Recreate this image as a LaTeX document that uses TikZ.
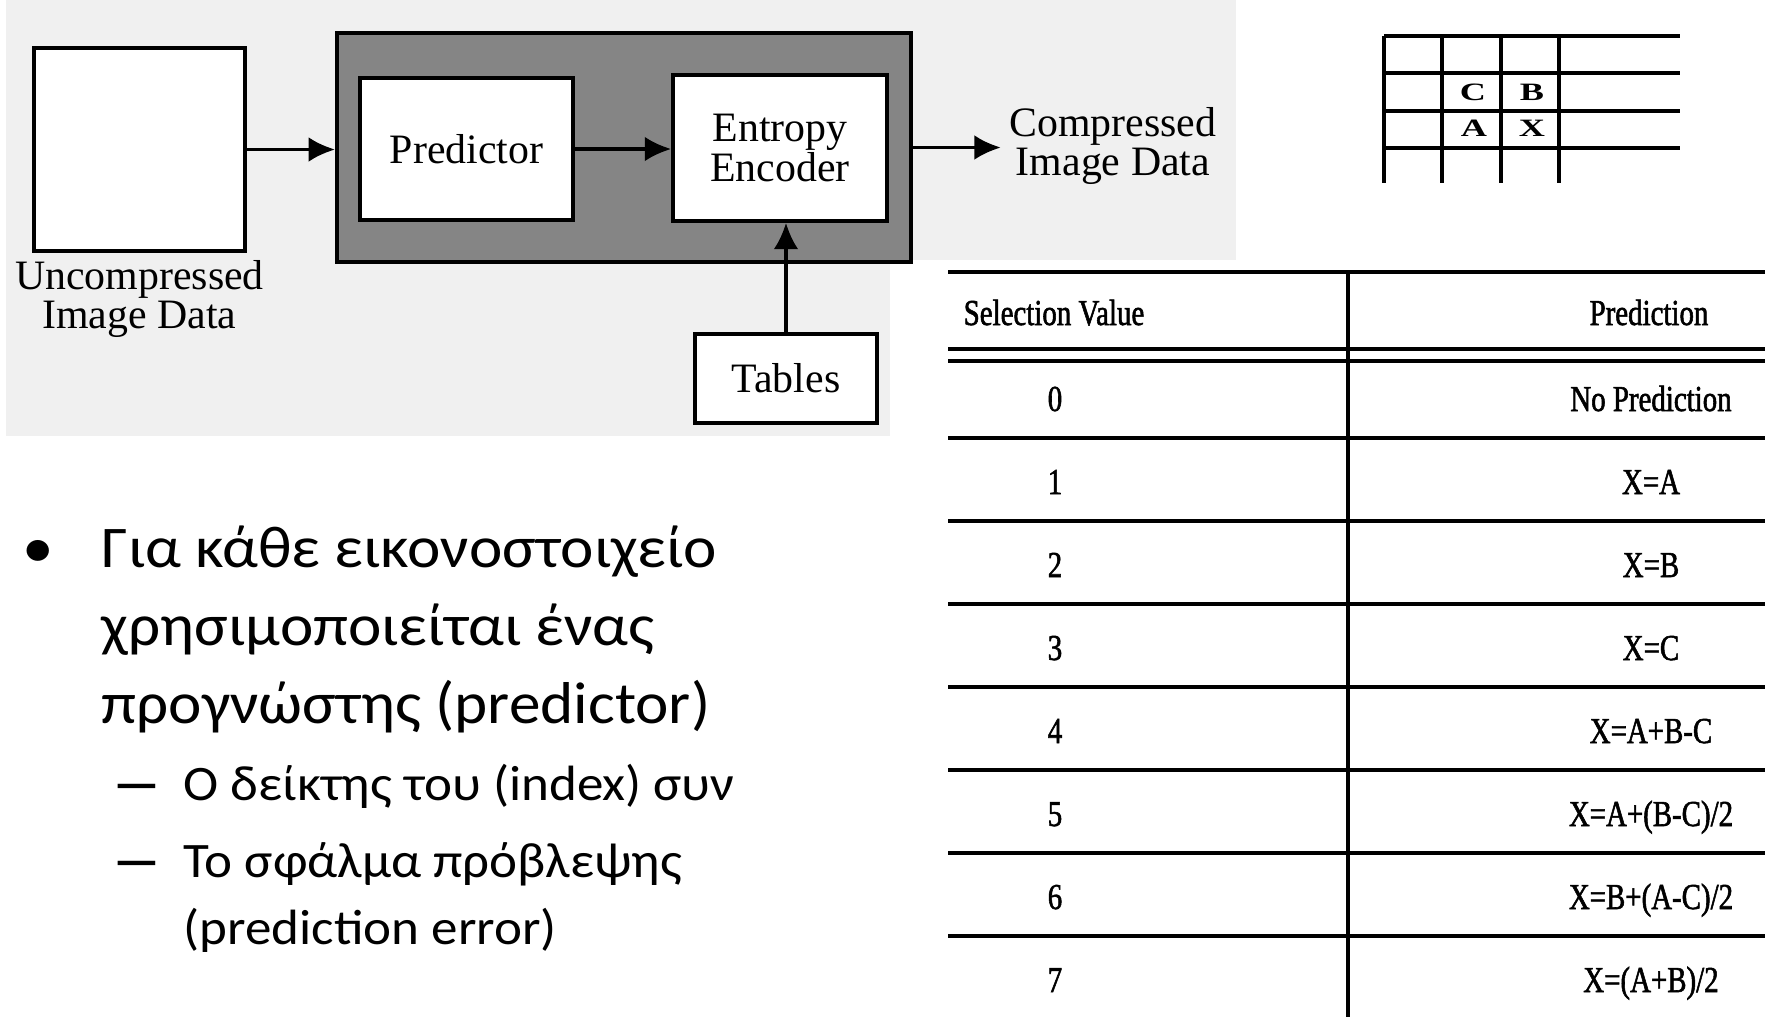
\documentclass[tikz,border=0pt]{standalone}
\usepackage{fontspec}
\setmainfont{Liberation Serif}
\newfontfamily\slidefont{Carlito}[FakeStretch=1.07]
\newfontfamily\tabfont{Liberation Serif}[FakeStretch=0.79,FakeBold=1.5]
\newfontfamily\cellfont{Liberation Serif}[FakeStretch=1.45]
\usetikzlibrary{arrows.meta, positioning}
\definecolor{scangray}{gray}{0.94}
\definecolor{framegray}{gray}{0.52}

\begin{document}
\begin{tikzpicture}[x=0.01cm, y=-0.01cm,
    blk/.style={draw, line width=1pt, fill=white, inner sep=0pt, align=center, font=\fontsize{11.9}{11.1}\selectfont},
    lbl/.style={inner sep=0pt, align=center, font=\fontsize{11.9}{11.1}\selectfont},
    arr/.style={line width=1pt, -{Latex[length=7.5pt, width=7pt]}},
    rule/.style={line width=0.9pt},
    celltxt/.style={font=\cellfont\bfseries\fontsize{7.1}{8}\selectfont, inner sep=0pt},
    tabtxt/.style={font=\tabfont\fontsize{10.4}{11}\selectfont, inner sep=0pt, anchor=base},
    bigtxt/.style={font=\slidefont\fontsize{16.8}{20}\selectfont, inner sep=0pt, anchor=base west},
    subtxt/.style={font=\slidefont\fontsize{14.1}{17}\selectfont, inner sep=0pt, anchor=base west},
    dashmark/.style={font=\slidefont\bfseries\fontsize{14.1}{17}\selectfont, inner sep=0pt, anchor=base, xscale=2, transform shape}]
    \useasboundingbox (0,0) rectangle (1765,1017);
    \fill[white] (0,0) rectangle (1765,1017);
    \fill[scangray] (6,0) rectangle (1236,436);
    \fill[white] (890,260) rectangle (1765,1017);

    \node[blk, minimum width=2.11cm, minimum height=2.03cm] (raw) at (139.5,149.5) {};
    \node[lbl, below=0.07cm of raw] (rawtxt) {Uncompressed\\Image Data};
    \node[draw, line width=1pt, fill=framegray, minimum width=5.74cm, minimum height=2.29cm] (core) at (624,147.5) {};
    \node[blk, minimum width=2.13cm, minimum height=1.42cm] (pred) at (466.5,149) {Predictor};
    \node[blk, minimum width=2.14cm, minimum height=1.46cm] (enc) at (780,148) {Entropy\\Encoder};
    \node[blk, minimum width=1.82cm, minimum height=0.89cm] (tbl) at (786,378.5) {Tables};
    \node[lbl, inner xsep=0.08cm] (outtxt) at (1113,146) {Compressed\\Image Data};
    \draw[arr] (raw.east) -- (raw.east -| core.west);
    \draw[arr] (pred.east) -- (pred.east -| enc.west);
    \draw[arr] (core.east) -- (core.east -| outtxt.west);
    \draw[arr] (tbl.north) -- (tbl.north |- enc.south);

    \foreach \gx in {1384,1442,1501,1559}
        \draw[rule] (\gx,36) -- (\gx,183);
    \foreach \gy in {36,73,111,148}
        \draw[rule] (1384,\gy) -- (1680,\gy);
    \node[celltxt] (pxc) at (1473,92) {C};
    \node[celltxt] (pxb) at (1532,92) {B};
    \node[celltxt] (pxa) at (1474,128) {A};
    \node[celltxt] (pxx) at (1532,128) {X};

    \foreach \ty in {272,349,361,438,521,604,687,770,853,936}
        \draw[rule] (948,\ty) -- (1765,\ty);
    \draw[rule] (1348,272) -- (1348,1017);
    \node[tabtxt] (selhd) at (1054,325) {Selection Value};
    \node[tabtxt] (prdhd) at (1649,325) {Prediction};
    \foreach \sv/\pv [count=\i from 0] in {0/No Prediction, 1/X=A, 2/X=B, 3/X=C, 4/X=A+B-C,
        5/{X=A+(B-C)/2}, 6/{X=B+(A-C)/2}, 7/{X=(A+B)/2}} {
        \node[tabtxt] (sv\i) at (1055,411+83*\i) {\sv};
        \node[tabtxt] (prd\i) at (1651,411+83*\i) {\pv};
    }

    \node[bigtxt, anchor=base] (dot1) at (38,567) {•};
    \node[bigtxt] (ln1) at (101,567) {Για κάθε εικονοστοιχείο};
    \node[bigtxt] (ln2) at (101,645) {χρησιμοποιείται ένας};
    \node[bigtxt] (ln3) at (101,723) {προγνώστης (predictor)};
    \node[dashmark] (dash1) at (137,800) {–};
    \node[subtxt] (sub1) at (183,800) {Ο δείκτης του (index) συν};
    \node[dashmark] (dash2) at (137,877) {–};
    \node[subtxt] (sub2) at (183,877) {Το σφάλμα πρόβλεψης};
    \node[subtxt] (sub3) at (183,944) {(prediction error)};
\end{tikzpicture}
\end{document}
